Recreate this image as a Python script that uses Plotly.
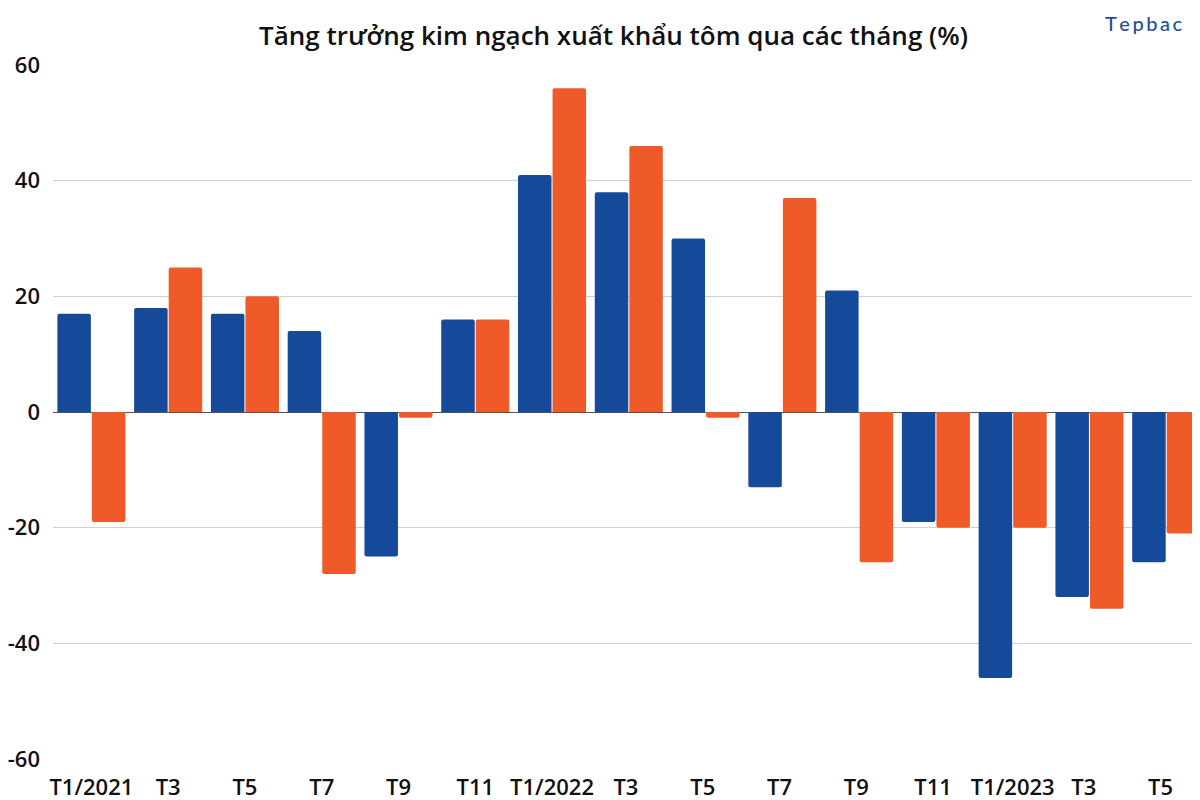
import plotly.graph_objects as go

categories = ["T1/2021", "T3", "T5", "T7", "T9", "T11", "T1/2022", "T3 ", "T5 ", "T7 ", "T9 ", "T11 ", "T1/2023", "T3  ", "T5  "]
odd_months = [17, 18, 17, 14, -25, 16, 41, 38, 30, -13, 21, -19, -46, -32, -26]
even_months = [-19, 25, 20, -28, -1, 16, 56, 46, -1, 37, -26, -20, -20, -34, -21]
y_ticks = [-60, -40, -20, 0, 20, 40, 60]
y_tick_labels = ["-60", "-40", "-20", "0", "20", "40", "60"]

BLUE = "#154A9B"
ORANGE = "#F05A28"
FONT = "Open Sans"

fig = go.Figure()
fig.add_trace(go.Bar(x=categories, y=odd_months, name="Tháng lẻ",
                     marker=dict(color=BLUE, cornerradius=2, line_width=0)))
fig.add_trace(go.Bar(x=categories, y=even_months, name="Tháng chẵn",
                     marker=dict(color=ORANGE, cornerradius=2, line_width=0)))

fig.update_layout(
    width=1192, height=792,
    margin=dict(l=45, r=0, t=57, b=41, autoexpand=False),
    paper_bgcolor="white", plot_bgcolor="white",
    barmode="group", bargap=0.1, bargroupgap=0.03,
    showlegend=False,
    font=dict(family=FONT, color="#111111"),
    title=dict(text="Tăng trưởng kim ngạch xuất khẩu tôm qua các tháng (%)",
               x=0.508, xanchor="center", xref="container",
               y=0.965, yanchor="middle", yref="container",
               font=dict(size=26, family=FONT, color="#111111", weight=600)),
    xaxis=dict(range=[-0.5, 14.44], showgrid=False, showline=False,
               automargin=False,
               tickfont=dict(size=22, family=FONT, weight=600, color="#111111"),
               ticklabelstandoff=13, fixedrange=True),
    yaxis=dict(range=[-60, 60], tickvals=y_ticks, ticktext=y_tick_labels,
               showgrid=True, automargin=False,
               gridcolor="#D0D0D0", gridwidth=1.3,
               zeroline=True, zerolinecolor="#555555", zerolinewidth=1.3,
               tickfont=dict(size=22, family=FONT, weight=600, color="#111111"),
               ticklabelstandoff=12, showline=False),
)

fig.add_annotation(text="T\u2009e\u2009p\u2009b\u2009a\u2009c", xref="paper", yref="paper",
                   x=0.986, y=1.061, xanchor="right", yanchor="middle", showarrow=False,
                   font=dict(size=20, family="Lato", color="#1F4F9C", weight=500))

fig.write_html("out.html")
